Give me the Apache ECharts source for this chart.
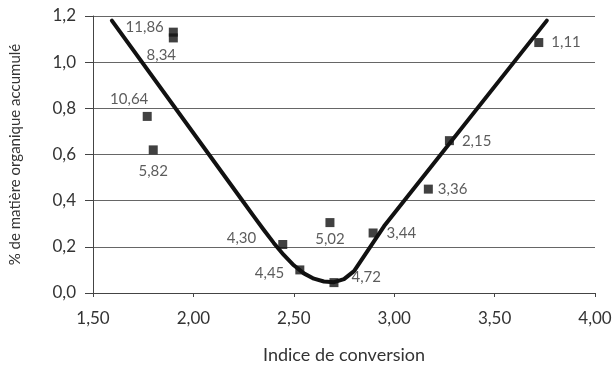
<!DOCTYPE html>
<html>
<head>
<meta charset="utf-8">
<script src="https://cdn.jsdelivr.net/npm/echarts@6/dist/echarts.min.js"></script>
<style>
  html, body { margin: 0; padding: 0; background: #fff; }
  #chart { width: 616px; height: 369px; }
</style>
</head>
<body>
<div id="chart"></div>
<script>
// Measured samples: conversion index vs. accumulated organic matter (%)
const pointX = [1.90, 1.90, 1.77, 1.80, 2.445, 2.53, 2.68, 2.70, 2.895, 3.17, 3.275, 3.72];
const pointY = [1.13, 1.105, 0.765, 0.62, 0.21, 0.10, 0.305, 0.045, 0.26, 0.45, 0.66, 1.085];
const pointLabels = ['11,86', '8,34', '10,64', '5,82', '4,30', '4,45', '5,02', '4,72', '3,44', '3,36', '2,15', '1,11'];
const labelSides = ['left', 'bottom', 'top', 'bottom', 'left', 'left', 'bottom', 'right', 'right', 'right', 'right', 'right'];
// Label nudges in pixels [dx, dy]
const labelNudges = [[0, -5], [-12, 0], [-18, 0], [0, 4], [-17, -6], [-6, 3], [0, 0], [8, -5], [4, 0], [0, 0], [3, 1], [3, 0]];

// Fitted trend curve
const curveX = [1.594, 2.25, 2.30, 2.35, 2.40, 2.45, 2.50, 2.55, 2.60, 2.65, 2.70, 2.75, 2.80, 2.85, 2.90, 2.95, 3.76];
const curveY = [1.18, 0.393, 0.333, 0.274, 0.217, 0.165, 0.12, 0.085, 0.062, 0.05, 0.047, 0.06, 0.095, 0.16, 0.225, 0.29, 1.18];

// Axis ticks
const xTicks = [1.5, 2.0, 2.5, 3.0, 3.5, 4.0];
const yTicks = [0, 0.2, 0.4, 0.6, 0.8, 1.0, 1.2];

const font = 'Lato, "Open Sans", sans-serif';
const comma = (v, d) => v.toFixed(d).replace('.', ',');

const chart = echarts.init(document.getElementById('chart'), null, { renderer: 'canvas' });
chart.setOption({
  backgroundColor: '#fff',
  animation: false,
  grid: { left: 90, right: 21, top: 16, bottom: 71 },
  xAxis: {
    type: 'value',
    min: xTicks[0], max: xTicks[xTicks.length - 1], interval: 0.5,
    name: 'Indice de conversion',
    nameLocation: 'middle', nameGap: 53,
    nameTextStyle: { color: '#333', fontSize: 18, fontFamily: font },
    axisLine: { show: true, lineStyle: { color: '#444', width: 1 } },
    axisTick: { show: true, length: 4, lineStyle: { color: '#444' } },
    axisLabel: { color: '#333', fontSize: 17, fontFamily: font, margin: 17, formatter: v => comma(v, 2) },
    splitLine: { show: false }
  },
  yAxis: {
    type: 'value',
    min: yTicks[0], max: yTicks[yTicks.length - 1], interval: 0.2,
    name: '% de matière organique accumulé',
    nameLocation: 'middle', nameGap: 70,
    nameTextStyle: { color: '#333', fontSize: 15, fontFamily: font },
    axisLine: { show: true, lineStyle: { color: '#444', width: 1 } },
    axisTick: { show: true, length: 8, lineStyle: { color: '#444' } },
    axisLabel: { color: '#333', fontSize: 17, fontFamily: font, margin: 17, formatter: v => comma(v, 1) },
    splitLine: { show: true, lineStyle: { color: '#666', width: 1 } }
  },
  series: [
    {
      type: 'line',
      data: curveX.map((x, i) => [x, curveY[i]]),
      smooth: false,
      showSymbol: false,
      lineStyle: { color: '#111', width: 4, join: 'round', cap: 'round' },
      z: 3
    },
    {
      type: 'scatter',
      symbol: 'rect',
      symbolSize: 9,
      itemStyle: { color: '#111' },
      data: pointX.map((x, i) => ({
        value: [x, pointY[i]],
        label: {
          show: true,
          formatter: pointLabels[i],
          position: labelSides[i],
          offset: labelNudges[i],
          distance: 5,
          color: '#333', fontSize: 15, fontFamily: font
        }
      })),
      z: 4
    }
  ]
});
</script>
</body>
</html>
